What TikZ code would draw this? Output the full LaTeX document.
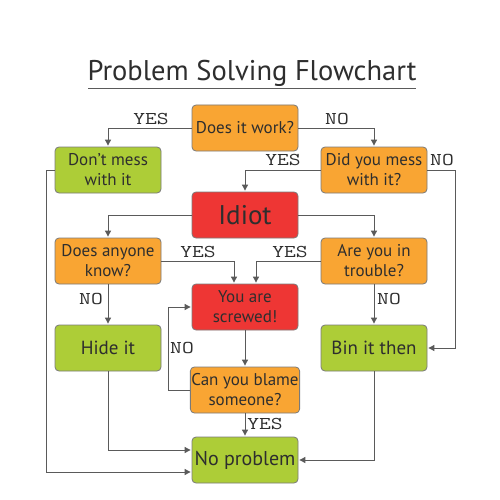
\documentclass[tikz,border=0pt]{standalone}
\usepackage{fontspec}
\usepackage{graphicx}
\setmainfont{PT Sans}
\usetikzlibrary{arrows.meta}
\definecolor{orng}{HTML}{F9A533}
\definecolor{grn}{HTML}{ADCD37}
\definecolor{rd}{HTML}{EE3634}
\definecolor{bord}{HTML}{7A7A7A}
\definecolor{ln}{HTML}{5A5A5A}
\definecolor{txt}{HTML}{2E2E2E}
\newcommand{\lbtext}[1]{\scalebox{1.27}[1]{#1}}
\tikzset{
  box/.style={draw=bord, line width=0.8pt, rounded corners=4pt, minimum width=106pt, minimum height=46pt, inner sep=1pt, align=center, text=txt, font=\fontsize{17}{20}\selectfont},
  obox/.style={box, fill=orng},
  gbox/.style={box, fill=grn},
  rbox/.style={box, fill=rd},
  conn/.style={draw=ln, line width=0.9pt, -{Triangle[length=6pt,width=6pt]}, shorten >=1pt},
  lbl/.style={text=txt, font=\ttfamily\fontsize{18}{18}\selectfont, inner sep=0pt}
}
\begin{document}
\begin{tikzpicture}[x=1pt,y=-1pt]
\useasboundingbox[fill=white] (0,0) rectangle (500,500);
\node[text=txt, font=\fontsize{28.5}{30}\selectfont, inner sep=0pt] (title) at (252,73) {Problem Solving Flowchart};
\draw[ln, line width=1pt] (88,89) -- (416,89);

\node[obox] (work) at (245,128) {Does it work?};
\node[gbox] (dont) at (108,170) {Don't mess\\with it};
\node[obox] (mess) at (374,170) {Did you mess\\with it?};
\node[rbox, font=\fontsize{27}{28}\selectfont] (idiot) at (245,215) {Idiot};
\node[obox] (know) at (108,261) {Does anyone\\know?};
\node[obox] (trouble) at (374,261) {Are you in\\trouble?};
\node[rbox] (screw) at (245,307) {You are\\screwed!};
\node[gbox, font=\fontsize{19}{20}\selectfont] (hide) at (108,348) {Hide it};
\node[gbox, font=\fontsize{19}{20}\selectfont] (bin) at (374,348) {Bin it then};
\node[obox] (blame) at (245,390) {Can you blame\\someone?};
\node[gbox, font=\fontsize{20}{22}\selectfont] (nop) at (245,460) {No problem};

\coordinate (c1) at (46,472);
\coordinate (c2) at (455,348);
\coordinate (c3) at (168,390);

\draw[conn] (work.west) -| (dont.north);
\draw[conn] (work.east) -| (mess.north);
\draw[conn] (mess.west) -| (idiot.north);
\draw[conn] (mess.east) -| (c2) -- (bin.east);
\draw[conn] (idiot.west) -| (know.north);
\draw[conn] (idiot.east) -| (trouble.north);
\draw[conn] (know.east) -| ([xshift=-11pt]screw.north);
\draw[conn] (trouble.west) -| ([xshift=11pt]screw.north);
\draw[conn] (know.south) -- (hide.north);
\draw[conn] (trouble.south) -- (bin.north);
\draw[conn] (screw.south) -- (blame.north);
\draw[conn] (blame.west) -- (c3) |- (screw.west);
\draw[conn] (blame.south) -- (nop.north);
\draw[conn] (hide.south) |- ([yshift=10pt]nop.west);
\draw[conn] (dont.west) -| (c1) -- ([yshift=-12pt]nop.west);
\draw[conn] (bin.south) |- (nop.east);

\node[lbl] (l1) at (151,119) {\lbtext{YES}};
\node[lbl] (l2) at (337,119) {\lbtext{NO}};
\node[lbl] (l3) at (283,160) {\lbtext{YES}};
\node[lbl] (l4) at (442,160) {\lbtext{NO}};
\node[lbl] (l5) at (198,252) {\lbtext{YES}};
\node[lbl] (l6) at (290,252) {\lbtext{YES}};
\node[lbl] (l7) at (91,299) {\lbtext{NO}};
\node[lbl] (l8) at (389,299) {\lbtext{NO}};
\node[lbl] (l9) at (182,348) {\lbtext{NO}};
\node[lbl] (l10) at (265,424) {\lbtext{YES}};
\end{tikzpicture}
\end{document}
